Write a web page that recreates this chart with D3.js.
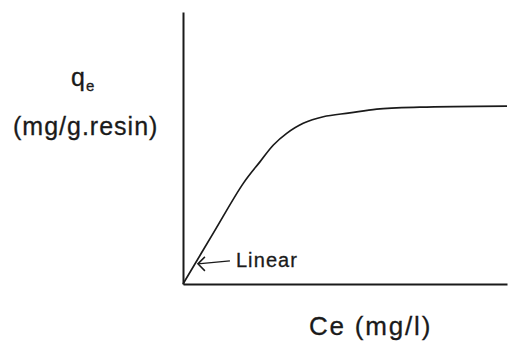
<!DOCTYPE html>
<html>
<head>
<meta charset="utf-8">
<script src="https://cdn.jsdelivr.net/npm/d3@7"></script>
<style>
  html, body { margin: 0; padding: 0; background: #fff; }
  svg { display: block; }
  text { font-family: "Liberation Sans", Arial, Helvetica, sans-serif; fill: #1a1a1a; stroke: #1a1a1a; stroke-width: 0.3px; }
</style>
</head>
<body>
<svg id="chart" width="514" height="342"></svg>
<script>
// Equilibrium concentration Ce (relative units, 0–100)
const ce = [0, 9.3, 18.6, 23.8, 27.9, 32.0, 37.1, 43.3, 51.5, 59.8, 73.1, 100];
// Resin loading qe (relative units, 0–100)
const qe = [0, 18.6, 37.0, 45.0, 51.1, 55.4, 59.1, 61.5, 62.9, 64.3, 65.0, 65.4];
// Point on the initial linear region that the annotation points to
const linearPoint = { ce: 4.6, qe: 7.4 };
const annotationText = "Linear";
const xTitle = "Ce (mg/l)";
const yTitleMain = "q";
const yTitleSub = "e";
const yTitleUnit = "(mg/g.resin)";

const svg = d3.select("#chart");
const ink = "#1a1a1a";

const x = d3.scaleLinear().domain([0, 100]).range([183, 507]);
const y = d3.scaleLinear().domain([0, 100]).range([284, 12]);

// Axes: bare lines, no ticks
const xAxis = svg.append("g")
  .attr("transform", `translate(0,${y(0)})`)
  .call(d3.axisBottom(x).ticks(0).tickSize(0).tickSizeOuter(0));
const yAxis = svg.append("g")
  .attr("transform", `translate(${x(0)},0)`)
  .call(d3.axisLeft(y).ticks(0).tickSize(0).tickSizeOuter(0));
[xAxis, yAxis].forEach(g => {
  g.select(".domain").attr("stroke", ink).attr("stroke-width", 2);
  g.selectAll("text").remove();
});

// Isotherm curve
const pts = ce.map((c, i) => [c, qe[i]]);
const line = d3.line()
  .x(d => x(d[0]))
  .y(d => y(d[1]))
  .curve(d3.curveCatmullRom.alpha(0.5));
svg.append("path")
  .datum(pts)
  .attr("d", line)
  .attr("fill", "none")
  .attr("stroke", ink)
  .attr("stroke-width", 1.7)
  .attr("stroke-linejoin", "round");

// "Linear" annotation arrow
const tipX = x(linearPoint.ce), tipY = y(linearPoint.qe);
const tailX = tipX + 32, tailY = tipY - 3;
svg.append("line")
  .attr("x1", tailX).attr("y1", tailY)
  .attr("x2", tipX).attr("y2", tipY)
  .attr("stroke", ink).attr("stroke-width", 1.5);
svg.append("path")
  .attr("d", `M${tipX + 7},${tipY - 7}L${tipX},${tipY}L${tipX + 7},${tipY + 7}`)
  .attr("fill", "none")
  .attr("stroke", ink).attr("stroke-width", 1.5);
svg.append("text")
  .attr("x", tailX + 6)
  .attr("y", tailY + 6)
  .attr("font-size", 20)
  .attr("letter-spacing", 1.1)
  .text(annotationText);

// Axis titles
svg.append("text")
  .attr("x", 309)
  .attr("y", 335)
  .attr("font-size", 26)
  .attr("letter-spacing", 1.8)
  .text(xTitle);

const qLabel = svg.append("text")
  .attr("x", 71)
  .attr("y", 86)
  .attr("font-size", 25);
qLabel.append("tspan").text(yTitleMain);
qLabel.append("tspan")
  .attr("font-size", 15)
  .attr("dx", 1)
  .attr("dy", 5)
  .text(yTitleSub);

svg.append("text")
  .attr("x", 13)
  .attr("y", 135)
  .attr("font-size", 25)
  .attr("letter-spacing", 1)
  .text(yTitleUnit);
</script>
</body>
</html>
